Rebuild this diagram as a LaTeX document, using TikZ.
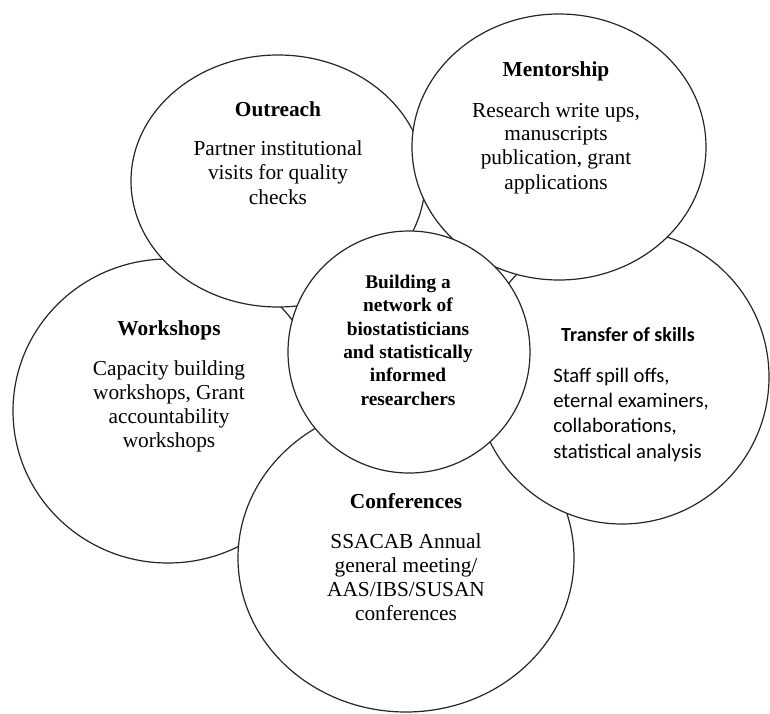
\documentclass[tikz,border=0pt]{standalone}
\usepackage{fontspec}
\setmainfont{Liberation Serif}
\newfontfamily\skillsfont{Carlito}
\usetikzlibrary{shapes.geometric}

\begin{document}
\begin{tikzpicture} [
    x=0.75pt, y=-0.75pt,
    petal/.style={ellipse, draw=black!85, fill=white, line width=0.9pt, inner sep=0pt},
    hub/.style={circle, draw=black!85, fill=white, line width=0.9pt, inner sep=0pt, minimum size=181.5pt},
    blurb/.style={align=center, anchor=base, inner sep=0pt, font=\fontsize{16}{18}\selectfont},
    hubtext/.style={align=center, anchor=base, inner sep=0pt, font=\bfseries\fontsize{14.5}{17.5}\selectfont},
    skills/.style={inner sep=0pt, font=\skillsfont\fontsize{15.5}{19}\selectfont}
]
\useasboundingbox (0,0) rectangle (770,713);

% Petals, back to front
\node[petal, minimum width=232.5pt, minimum height=228pt] (workshops) at (168,411) {};
\node[petal, minimum width=220.5pt, minimum height=189pt] (outreach) at (278,181) {};
\node[petal, minimum width=252pt, minimum height=231pt] (conferences) at (406,558) {};
\node[petal, minimum width=220.5pt, minimum height=220.5pt] (transfer) at (622,377) {};
\node[petal, minimum width=220.5pt, minimum height=199.5pt] (mentorship) at (559,147) {};

% Centre circle on top
\node[hub] (network) at (409,352) {};

% Texts (base = last line)
\node[blurb] (outreachtext) at (278,204) {\textbf{Outreach}\\[12pt]Partner institutional\\visits for quality\\checks};
\node[blurb] (mentorshiptext) at (556,189) {\textbf{Mentorship}\\[12pt]Research write ups,\\manuscripts\\publication, grant\\applications};
\node[blurb] (workshopstext) at (169,447) {\textbf{Workshops}\\[12pt]Capacity building\\workshops, Grant\\accountability\\workshops};
\node[blurb] (conferencestext) at (406,620) {\textbf{Conferences}\\[12pt]SSACAB Annual\\general meeting/\\AAS/IBS/SUSAN\\conferences};
\node[hubtext] (networktext) at (408,405) {Building a\\network of\\biostatisticians\\and statistically\\informed\\researchers};
\node[skills, anchor=base, font=\skillsfont\bfseries\fontsize{15}{19}\selectfont] (transfertitle) at (628,341) {Transfer of skills};
\node[skills, anchor=base west, align=left] (transferbody) at (553,458) {Staff spill offs,\\eternal examiners,\\collaborations,\\statistical analysis};

\end{tikzpicture}
\end{document}
